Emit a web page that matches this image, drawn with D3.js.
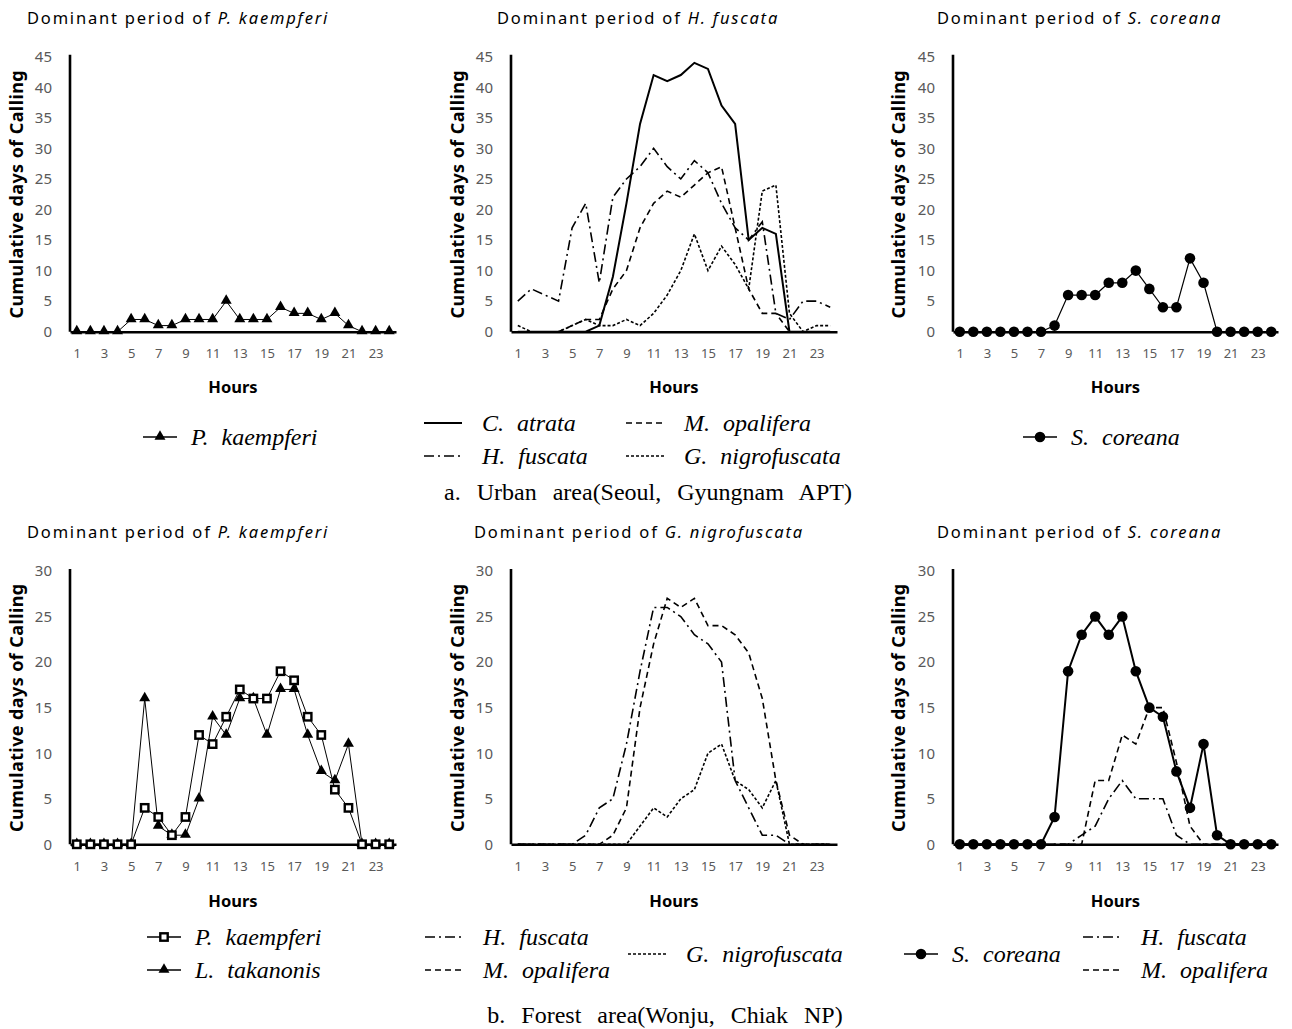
<!DOCTYPE html>
<html>
<head>
<meta charset="utf-8">
<script src="https://cdn.jsdelivr.net/npm/d3@7"></script>
<style>
  body { margin: 0; background: #fff; }
  .tick text { fill: #595959; font-family: "Noto Sans", sans-serif; }
</style>
</head>
<body>
<svg id="chart" width="1292" height="1029"></svg>
<script>
document.addEventListener("DOMContentLoaded", function() {

    // Data
    const hours = [1,2,3,4,5,6,7,8,9,10,11,12,13,14,15,16,17,18,19,20,21,22,23,24];
    const hourTicks = [1,3,5,7,9,11,13,15,17,19,21,23];
    const urbanYTicks = [0,5,10,15,20,25,30,35,40,45];
    const forestYTicks = [0,5,10,15,20,25,30];

    // a. Urban area
    const urbanKaempferi    = [0,0,0,0,2,2,1,1,2,2,2,5,2,2,2,4,3,3,2,3,1,0,0,0];
    const urbanAtrata       = [0,0,0,0,0,0,1,9,21,34,42,41,42,44,43,37,34,15,17,16,0,0,0,0];
    const urbanFuscata      = [5,7,6,5,17,21,8,22,25,27,30,27,25,28,26,21,17,15,18,3,2,5,5,4];
    const urbanOpalifera    = [0,0,0,0,1,2,2,7,10,17,21,23,22,24,26,27,17,7,3,3,0,0,0,0];
    const urbanNigrofuscata = [1,0,0,0,1,2,1,1,2,1,3,6,10,16,10,14,11,7,23,24,3,0,1,1];
    const urbanCoreana      = [0,0,0,0,0,0,0,1,6,6,6,8,8,10,7,4,4,12,8,0,0,0,0,0];

    // b. Forest area
    const forestKaempferi      = [0,0,0,0,0,4,3,1,3,12,11,14,17,16,16,19,18,14,12,6,4,0,0,0];
    const forestTakanonis      = [0,0,0,0,0,16,2,1,1,5,14,12,16,16,12,17,17,12,8,7,11,0,0,0];
    const forestFuscataMid     = [0,0,0,0,0,1,4,5,11,19,26,26,25,23,22,20,7,4,1,1,0,0,0,0];
    const forestOpaliferaMid   = [0,0,0,0,0,0,0,1,4,15,22,27,26,27,24,24,23,21,16,7,1,0,0,0];
    const forestNigrofuscata   = [0,0,0,0,0,0,0,0,0,2,4,3,5,6,10,11,7,6,4,7,0,0,0,0];
    const forestCoreana        = [0,0,0,0,0,0,0,3,19,23,25,23,25,19,15,14,8,4,11,1,0,0,0,0];
    const forestFuscataRight   = [0,0,0,0,0,0,0,0,0,1,2,5,7,5,5,5,1,0,0,0,0,0,0,0];
    const forestOpaliferaRight = [0,0,0,0,0,0,0,0,0,0,7,7,12,11,15,15,9,2,0,0,0,0,0,0];

    // Display settings
    const sansFont = "'Noto Sans', sans-serif";
    const serifFont = "'Liberation Serif', 'Times New Roman', serif";
    const lineStyles = {
        solid:   {dash: null,          width: 2},
        dashDot: {dash: "10,4,2,4",    width: 1.6},
        dashed:  {dash: "6,4",         width: 1.6},
        dotted:  {dash: "3,2",         width: 1.6}
    };

    const svg = d3.select("#chart");

    const top = {axisTop: 56.7, axisBottom: 331.7, yMax: 45, ticks: urbanYTicks, titleY: 24, tickLabelPad: 17, hoursY: 393};
    const bot = {axisTop: 571, axisBottom: 844.3, yMax: 30, ticks: forestYTicks, titleY: 538, tickLabelPad: 17, hoursY: 907};
    const cols = [
        {left: 70,  right: 396,  yTitleX: 17},
        {left: 511, right: 837,  yTitleX: 458},
        {left: 953, right: 1278, yTitleX: 899}
    ];

    const panels = [
        {row: top, col: cols[0], titleX: 27, title: "P. kaempferi", series: [
            {values: urbanKaempferi, style: "solid", width: 1, marker: "triangle"}]},
        {row: top, col: cols[1], titleX: 497, title: "H. fuscata", series: [
            {values: urbanNigrofuscata, style: "dotted"},
            {values: urbanOpalifera, style: "dashed"},
            {values: urbanFuscata, style: "dashDot"},
            {values: urbanAtrata, style: "solid"}]},
        {row: top, col: cols[2], titleX: 937, title: "S. coreana", series: [
            {values: urbanCoreana, style: "solid", width: 1.2, marker: "circle"}]},
        {row: bot, col: cols[0], titleX: 27, title: "P. kaempferi", series: [
            {values: forestTakanonis, style: "solid", width: 1, marker: "triangle"},
            {values: forestKaempferi, style: "solid", width: 1, marker: "square"}]},
        {row: bot, col: cols[1], titleX: 474, title: "G. nigrofuscata", series: [
            {values: forestNigrofuscata, style: "dotted"},
            {values: forestOpaliferaMid, style: "dashed"},
            {values: forestFuscataMid, style: "dashDot"}]},
        {row: bot, col: cols[2], titleX: 937, title: "S. coreana", series: [
            {values: forestFuscataRight, style: "dashDot"},
            {values: forestOpaliferaRight, style: "dashed"},
            {values: forestCoreana, style: "solid", width: 2, marker: "circle"}]}
    ];

    function drawMarker(g, type, cx, cy) {
        if (type === "triangle") {
            g.append("path")
                .attr("d", d3.symbol(d3.symbolTriangle, 52)())
                .attr("transform", `translate(${cx},${cy - 0.5})`)
                .attr("fill", "#000");
        } else if (type === "circle") {
            g.append("circle").attr("cx", cx).attr("cy", cy).attr("r", 5.3).attr("fill", "#000");
        } else if (type === "square") {
            g.append("rect").attr("x", cx - 3.7).attr("y", cy - 3.7)
                .attr("width", 7.4).attr("height", 7.4)
                .attr("fill", "#fff").attr("stroke", "#000").attr("stroke-width", 2.4);
        }
    }

    panels.forEach(function(p) {
        const g = svg.append("g");
        const x = d3.scalePoint().domain(hours).range([p.col.left, p.col.right]).padding(0.5);
        const y = d3.scaleLinear().domain([0, p.row.yMax]).range([p.row.axisBottom, p.row.axisTop]);
        const line = d3.line()
            .x((d, i) => x(hours[i]))
            .y(d => y(d));

        // Title
        const t = g.append("text")
            .attr("x", p.titleX).attr("y", p.row.titleY)
            .style("font-family", sansFont).style("font-size", "16.5px")
            .style("letter-spacing", "1.8px").attr("fill", "#000");
        t.append("tspan").text("Dominant period of ");
        t.append("tspan").style("font-style", "italic").text(p.title);

        // Lines
        p.series.forEach(function(s) {
            const st = lineStyles[s.style];
            g.append("path")
                .datum(s.values)
                .attr("d", line)
                .attr("fill", "none")
                .attr("stroke", "#000")
                .attr("stroke-width", s.width || st.width)
                .attr("stroke-dasharray", st.dash);
        });

        // Axes
        const xAxis = g.append("g")
            .attr("transform", `translate(0,${p.row.axisBottom})`)
            .call(d3.axisBottom(x).tickValues(hourTicks).tickSize(0).tickPadding(p.row.tickLabelPad));
        xAxis.selectAll("text").style("font-size", "13px");
        xAxis.select(".domain").attr("stroke", "#000").attr("stroke-width", 2.6);

        const yAxis = g.append("g")
            .attr("transform", `translate(${p.col.left},0)`)
            .call(d3.axisLeft(y).tickValues(p.row.ticks).tickSize(0).tickPadding(18));
        yAxis.selectAll("text").style("font-size", "15px");
        yAxis.select(".domain").attr("stroke", "#000").attr("stroke-width", 2.6)
            .attr("d", `M0,${p.row.axisBottom}V${p.row.axisTop - 2}`);

        // Markers on top
        p.series.filter(s => s.marker).forEach(function(s) {
            s.values.forEach((v, i) => drawMarker(g, s.marker, x(hours[i]), y(v)));
        });

        // Axis titles
        g.append("text")
            .attr("transform", `translate(${p.col.yTitleX},${(p.row.axisTop + p.row.axisBottom) / 2}) rotate(-90)`)
            .attr("text-anchor", "middle")
            .attr("dy", "0.35em")
            .style("font-family", sansFont).style("font-size", "18px").style("font-weight", "bold")
            .style("letter-spacing", "0.4px")
            .text("Cumulative days of Calling");

        g.append("text")
            .attr("x", (p.col.left + p.col.right) / 2).attr("y", p.row.hoursY)
            .attr("text-anchor", "middle")
            .style("font-family", sansFont).style("font-size", "16.5px").style("font-weight", "bold")
            .text("Hours");
    });

    // Legends
    const legendItems = [
        {x: 143, y: 437, style: "solid", marker: "triangle", label: "P. kaempferi"},
        {x: 424, y: 423, style: "solid", label: "C. atrata"},
        {x: 626, y: 423, style: "dashed", label: "M. opalifera"},
        {x: 424, y: 456, style: "dashDot", label: "H. fuscata"},
        {x: 626, y: 456, style: "dotted", label: "G. nigrofuscata"},
        {x: 1023, y: 437, style: "solid", marker: "circle", label: "S. coreana"},
        {x: 147, y: 937, style: "solid", marker: "square", label: "P. kaempferi"},
        {x: 147, y: 970, style: "solid", marker: "triangle", label: "L. takanonis"},
        {x: 425, y: 937, style: "dashDot", label: "H. fuscata"},
        {x: 425, y: 970, style: "dashed", label: "M. opalifera"},
        {x: 628, y: 954, style: "dotted", label: "G. nigrofuscata"},
        {x: 904, y: 954, style: "solid", marker: "circle", label: "S. coreana"},
        {x: 1083, y: 937, style: "dashDot", label: "H. fuscata"},
        {x: 1083, y: 970, style: "dashed", label: "M. opalifera"}
    ];

    const legend = svg.append("g");
    legendItems.forEach(function(it) {
        const st = lineStyles[it.style];
        const len = it.marker ? 34 : 38;
        legend.append("line")
            .attr("x1", it.x).attr("x2", it.x + len)
            .attr("y1", it.y).attr("y2", it.y)
            .attr("stroke", "#000")
            .attr("stroke-width", it.marker ? 1.4 : (it.style === "solid" ? 2 : 1.6))
            .attr("stroke-dasharray", st.dash);
        if (it.marker) drawMarker(legend, it.marker, it.x + len / 2, it.y);
        legend.append("text")
            .attr("x", it.x + len + (it.marker ? 14 : 20)).attr("y", it.y)
            .attr("dy", "0.35em")
            .style("font-family", serifFont).style("font-size", "24px").style("font-style", "italic")
            .style("word-spacing", "7px")
            .text(it.label);
    });

    // Captions
    const captions = [
        {x: 648, y: 492, text: "a. Urban area(Seoul, Gyungnam APT)"},
        {x: 665, y: 1015, text: "b. Forest area(Wonju, Chiak NP)"}
    ];
    svg.selectAll("text.caption")
        .data(captions)
        .enter().append("text")
        .attr("class", "caption")
        .attr("x", d => d.x).attr("y", d => d.y)
        .attr("dy", "0.35em")
        .attr("text-anchor", "middle")
        .style("font-family", serifFont).style("font-size", "24px")
        .style("word-spacing", "10px")
        .text(d => d.text);

});
</script>
</body>
</html>
